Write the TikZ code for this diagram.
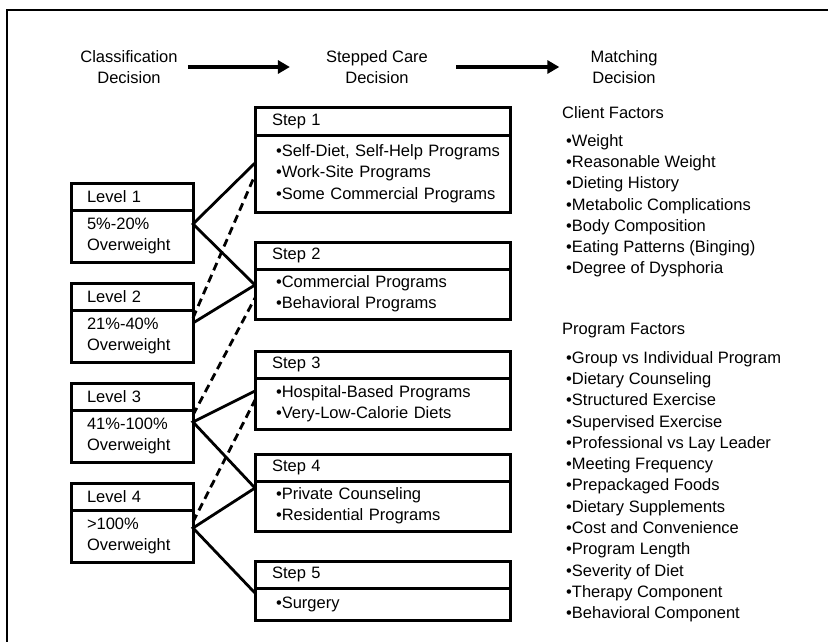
\documentclass[tikz,border=0pt]{standalone}
\usepackage{fontspec}
\setmainfont{Liberation Sans}
\usetikzlibrary{positioning}
\usetikzlibrary{arrows.meta}

\newcommand{\itm}[1]{\mbox{\textbullet #1}}

\tikzset{
  box/.style={draw, line width=3pt, outer sep=0pt, anchor=north west, align=left},
  lvhead/.style={box, text width=90pt, inner xsep=16pt, inner ysep=0pt, minimum height=27pt},
  lvbody/.style={lvhead, minimum height=52pt},
  sthead/.style={box, text width=221pt, inner xsep=17pt, inner ysep=0pt, minimum height=27pt},
  stbody/.style={box, text width=213pt, inner xsep=21pt, inner ysep=0pt},
  link/.style={line width=2.8pt},
  maybe/.style={line width=2.8pt, dash pattern=on 8pt off 5pt},
  bigarrow/.style={line width=3.2pt, -{Triangle[length=12pt,width=13pt]}},
  heading/.style={align=center, inner sep=0pt},
  factors/.style={align=left, inner sep=0pt, anchor=north west}
}

\begin{document}
\begin{tikzpicture}[x=1pt, y=-1pt,
    every node/.style={font=\fontsize{16.5}{21.3}\selectfont}]
  \useasboundingbox (0,0) rectangle (828,642);
  \draw [line width=2pt] (7,642) -- (7,10) -- (828,10);

  % decisions
  \node [heading] (cls) at (129,67) {Classification\\Decision};
  \node [heading] (stp) at (377,67) {Stepped Care\\Decision};
  \node [heading] (mtc) at (624,67) {Matching\\Decision};
  \draw [bigarrow] ([xshift=10pt]cls.east) -- ([xshift=-36pt]stp.west);
  \draw [bigarrow] ([xshift=28pt]stp.east) -- ([xshift=-31pt]mtc.west);

  % levels
  \node [lvhead] (lv1) at (71,183) {Level 1};
  \node [lvbody, below=0pt of lv1] (lv1b) {5\%-20\%\\Overweight};
  \node [lvhead] (lv2) at (71,283) {Level 2};
  \node [lvbody, below=0pt of lv2] (lv2b) {21\%-40\%\\Overweight};
  \node [lvhead] (lv3) at (71,383) {Level 3};
  \node [lvbody, below=0pt of lv3] (lv3b) {41\%-100\%\\Overweight};
  \node [lvhead] (lv4) at (71,483) {Level 4};
  \node [lvbody, below=0pt of lv4] (lv4b) {>100\%\\Overweight};

  % steps
  \node [sthead] (st1) at (255,108) {Step 1};
  \node [stbody, minimum height=77pt, below=0pt of st1] (st1b) {\itm{Self-Diet, Self-Help Programs}\\\itm{Work-Site Programs}\\\itm{Some Commercial Programs}};
  \node [sthead] (st2) at (255,242) {Step 2};
  \node [stbody, minimum height=50pt, below=0pt of st2] (st2b) {\itm{Commercial Programs}\\\itm{Behavioral Programs}};
  \node [sthead] (st3) at (255,351) {Step 3};
  \node [stbody, minimum height=51pt, below=0pt of st3] (st3b) {\itm{Hospital-Based Programs}\\\itm{Very-Low-Calorie Diets}};
  \node [sthead] (st4) at (255,454) {Step 4};
  \node [stbody, minimum height=50pt, below=0pt of st4] (st4b) {\itm{Private Counseling}\\\itm{Residential Programs}};
  \node [sthead] (st5) at (255,561) {Step 5};
  \node [stbody, minimum height=32pt, below=0pt of st5] (st5b) {\itm{Surgery}};

  % links
  \draw [link] ([yshift=-28pt]st1b.north west) -- ([yshift=-14pt]lv1b.north east) -- ([yshift=-16pt]st2b.north west);
  \draw [link] ([yshift=-13pt]lv2b.north east) -- ([yshift=-16pt]st2b.north west);
  \draw [link] ([yshift=-13pt]st3b.north west) -- ([yshift=-12pt]lv3b.north east) -- ([yshift=-7pt]st4b.north west);
  \draw [link] ([yshift=-7pt]st4b.north west) -- ([yshift=-18pt]lv4b.north east) -- ([yshift=-5pt]st5b.north west);
  \draw [maybe] ([yshift=-8pt]lv2b.north east) -- ([yshift=-40pt]st1b.north west);
  \draw [maybe] ([yshift=-5pt]lv3b.north east) -- ([yshift=-29pt]st2b.north west);
  \draw [maybe] ([yshift=-12pt]lv4b.north east) -- ([yshift=-22pt]st3b.north west);

  % factors
  \node [anchor=west, inner sep=0pt] (cf) at (562,113) {Client Factors};
  \node [factors] (cfl) at (566,134) {\itm{Weight}\\\itm{Reasonable Weight}\\\itm{Dieting History}\\\itm{Metabolic Complications}\\\itm{Body Composition}\\\itm{Eating Patterns (Binging)}\\\itm{Degree of Dysphoria}};
  \node [anchor=west, inner sep=0pt] (pf) at (562,331) {Program Factors};
  \node [factors] (pfl) at (566,351) {\itm{Group vs Individual Program}\\\itm{Dietary Counseling}\\\itm{Structured Exercise}\\\itm{Supervised Exercise}\\\itm{Professional vs Lay Leader}\\\itm{Meeting Frequency}\\\itm{Prepackaged Foods}\\\itm{Dietary Supplements}\\\itm{Cost and Convenience}\\\itm{Program Length}\\\itm{Severity of Diet}\\\itm{Therapy Component}\\\itm{Behavioral Component}};
\end{tikzpicture}
\end{document}
